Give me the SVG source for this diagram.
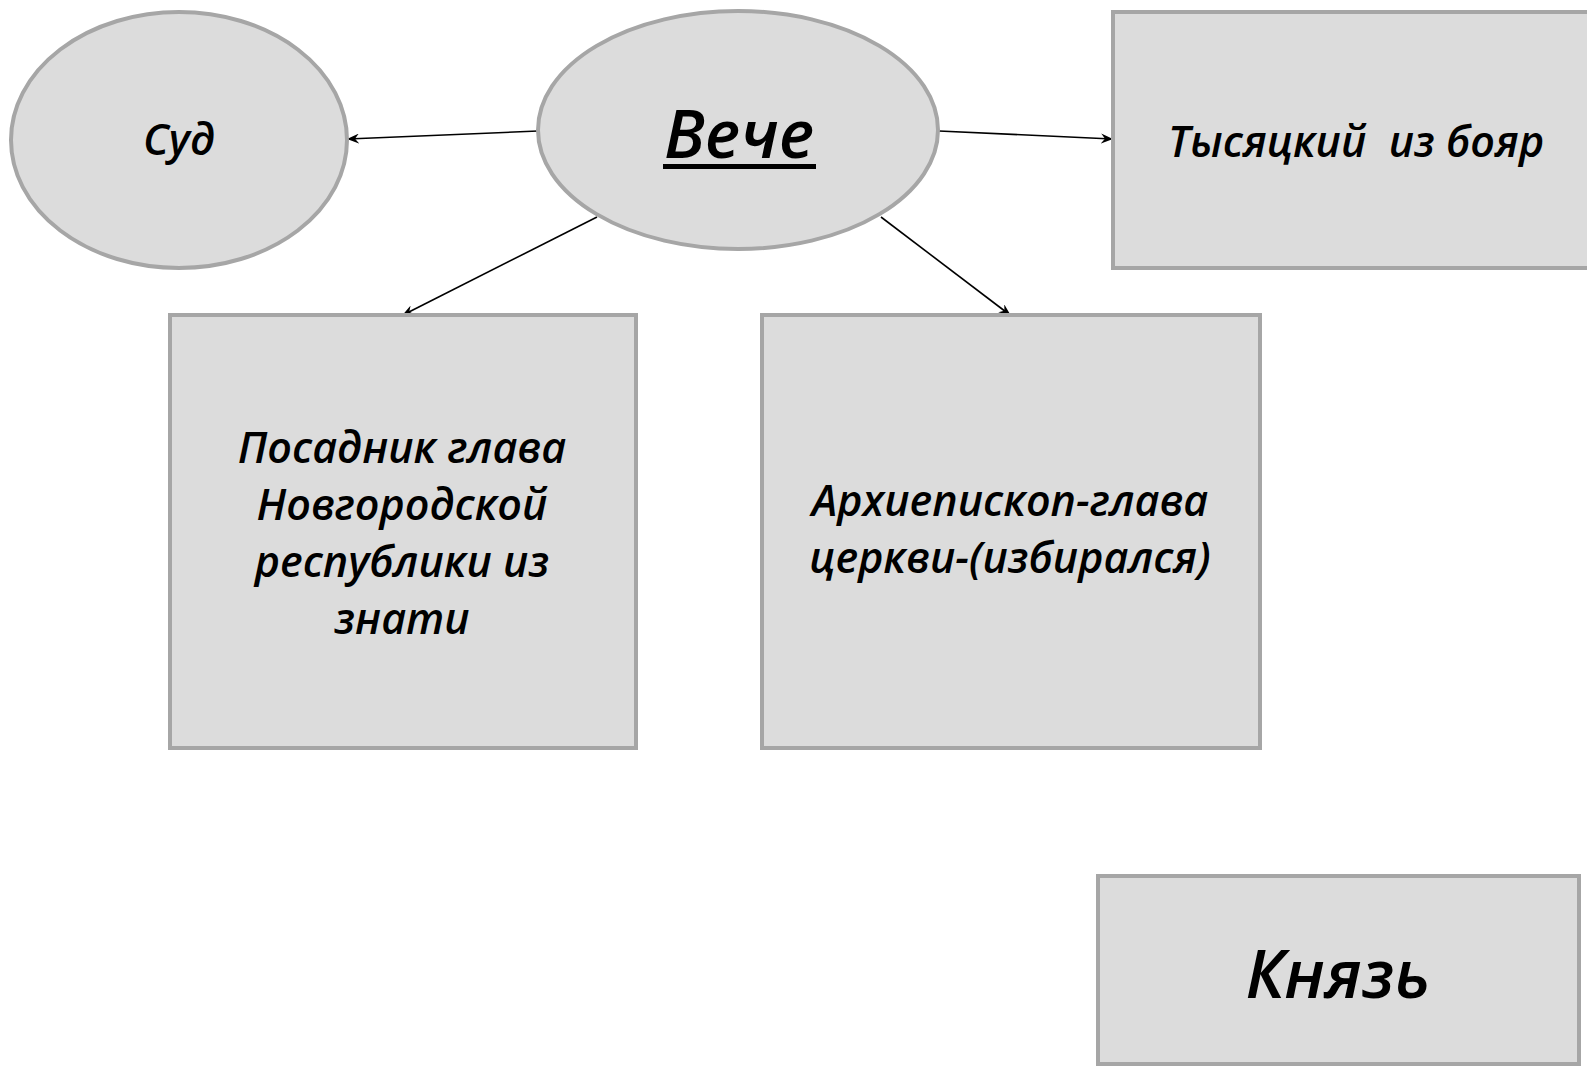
<svg xmlns="http://www.w3.org/2000/svg" width="1587" height="1067" viewBox="0 0 1587 1067">
<defs>
<style>
.node{fill:#DCDCDC;stroke:#A6A6A6;stroke-width:4}
.t{font-family:"Open Sans","Noto Sans","DejaVu Sans",sans-serif;font-weight:600;font-style:italic;fill:#000;text-anchor:middle;white-space:pre}
.m{font-size:43px}
.b{font-size:67px}
.c{stroke:#000;stroke-width:1.6;fill:none;marker-end:url(#ah)}
</style>
<marker id="ah" viewBox="0 0 12 10" refX="11" refY="5" markerWidth="12" markerHeight="10" markerUnits="userSpaceOnUse" orient="auto">
<path d="M0,0 L12,5 L0,10 L4,5 z" fill="#000"/>
</marker>
</defs>
<rect width="1587" height="1067" fill="#fff"/>
<g id="connectors">
<line class="c" x1="538" y1="131" x2="348" y2="139"/>
<line class="c" x1="939" y1="131" x2="1112" y2="139"/>
<line class="c" x1="597" y1="217" x2="403" y2="315"/>
<line class="c" x1="881" y1="217" x2="1010" y2="315"/>
</g>
<g id="sud">
<ellipse class="node" cx="179" cy="140" rx="168" ry="128"/>
<text class="t m" x="179" y="155">Суд</text>
</g>
<g id="veche">
<ellipse class="node" cx="738" cy="130" rx="200" ry="119"/>
<text class="t b" x="739" y="158">Вече</text>
<rect x="663" y="164" width="153" height="5" fill="#000"/>
</g>
<g id="tysyatsky">
<rect class="node" x="1113" y="12" width="480" height="256"/>
<text class="t m" x="1356" y="157">Тысяцкий  из бояр</text>
</g>
<g id="posadnik">
<rect class="node" x="170" y="315" width="466" height="433"/>
<text class="t m" x="402" y="463">Посадник глава</text>
<text class="t m" x="402" y="520">Новгородской</text>
<text class="t m" x="402" y="577">республики из</text>
<text class="t m" x="402" y="634">знати</text>
</g>
<g id="arkhiepiskop">
<rect class="node" x="762" y="315" width="498" height="433"/>
<text class="t m" x="1010" y="516">Архиепископ-глава</text>
<text class="t m" x="1010" y="573">церкви-(избирался)</text>
</g>
<g id="knyaz">
<rect class="node" x="1098" y="876" width="481" height="188"/>
<text class="t b" x="1338" y="998">Князь</text>
</g>
</svg>
